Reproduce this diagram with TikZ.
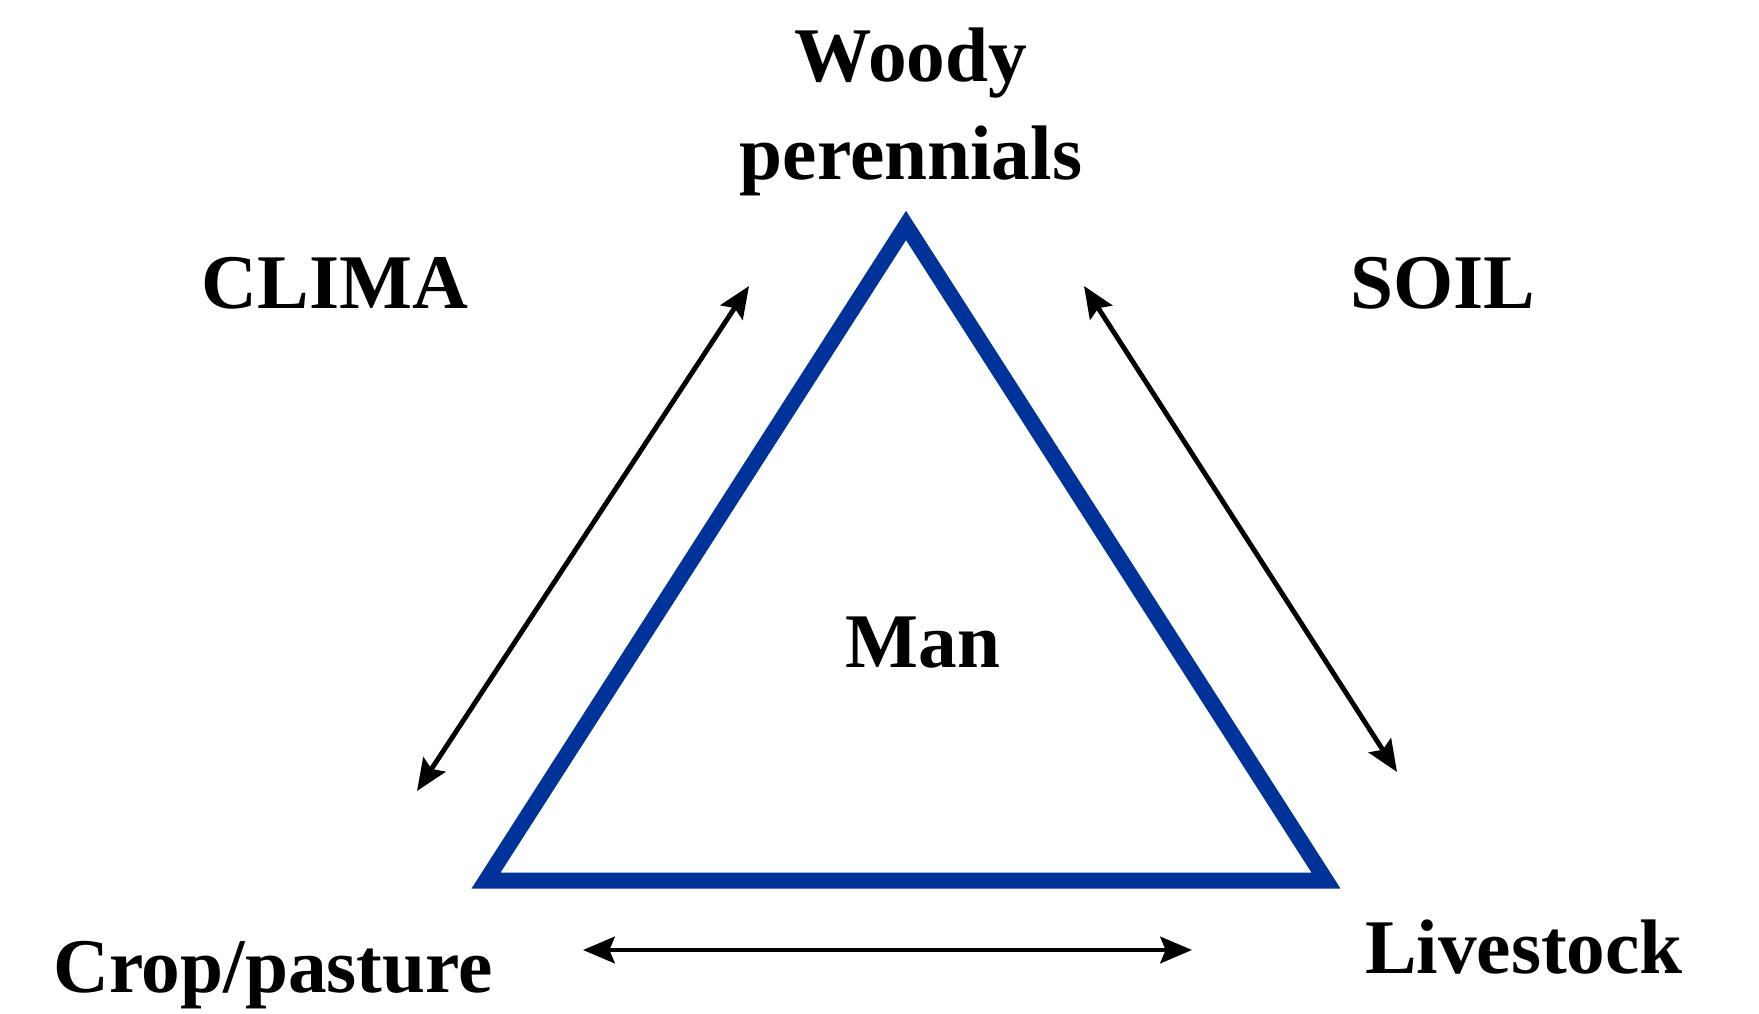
\documentclass[tikz,border=0pt]{standalone}
\usepackage{fontspec}
\setmainfont{Liberation Serif}
\usepackage{tikz}
\usetikzlibrary{arrows.meta}
\definecolor{tblue}{HTML}{003399}

\begin{document}
\begin{tikzpicture}[x=1cm, y=1cm,
  lbl/.style={font=\fontsize{22}{28}\selectfont\bfseries, anchor=base, align=center, inner sep=0pt},
  link/.style={line width=1.4pt, {Stealth[length=9pt,width=7.5pt,inset=1.5pt]}-{Stealth[length=9pt,width=7.5pt,inset=1.5pt]}}]
\useasboundingbox (0,0) rectangle (17.59,10.14);
% corners of the triangle
\coordinate (top) at (9.06,7.885);
\coordinate (bl) at (4.86,1.334);
\coordinate (br) at (13.26,1.334);
\draw[tblue, line width=4.5pt, miter limit=10] (top) -- (bl) -- (br) -- cycle;
\node[lbl] (woody) at (9.11,8.345) {Woody\\perennials};
\node[lbl] (clima) at (3.35,7.055) {CLIMA};
\node[lbl] (soil) at (14.43,7.055) {SOIL};
\node[lbl] (man) at (9.23,3.465) {Man};
\node[lbl] (crop) at (2.73,0.21) {Crop/pasture};
\node[lbl] (stock) at (15.24,0.40) {Livestock};
% arrow ends
\coordinate (la) at (4.17,2.23);
\coordinate (lb) at (7.49,7.28);
\coordinate (ra) at (10.84,7.28);
\coordinate (rb) at (13.97,2.42);
\coordinate (ba) at (5.83,0.64);
\coordinate (bb) at (11.92,0.64);
\draw[link] (la) -- (lb);
\draw[link] (ra) -- (rb);
\draw[link] (ba) -- (bb);
\end{tikzpicture}
\end{document}
